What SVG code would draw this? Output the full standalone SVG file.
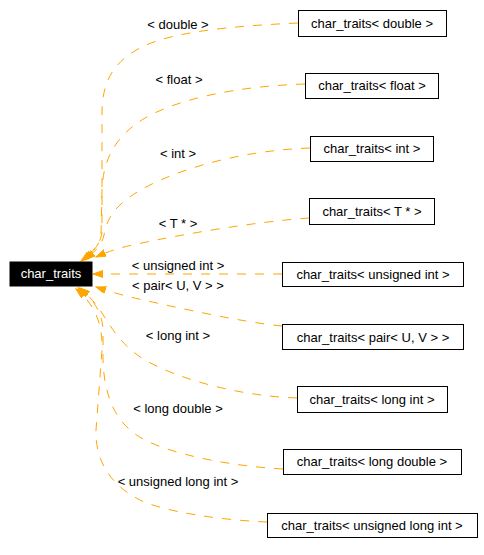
<svg xmlns="http://www.w3.org/2000/svg" width="484" height="555" viewBox="0 0 484 555">
<style>
.box{fill:#fff;stroke:#000;stroke-width:1}
.t{font-family:"Liberation Sans",Arial,sans-serif;font-size:13px;fill:#000;text-anchor:middle}
.e{fill:none;stroke:#FFA500;stroke-width:1;stroke-dasharray:9,9;marker-end:url(#ah)}
</style>
<defs>
<marker id="ah" markerUnits="userSpaceOnUse" markerWidth="11" markerHeight="8" refX="10" refY="3.5" orient="auto">
<path d="M0,0 L10,3.5 L0,7 z" fill="#FFA500" stroke="#FFA500"/>
</marker>
</defs>
<rect width="484" height="555" fill="#fff"/>
<g id="edges">
<path class="e" d="M298,23 C230,26 170,32 140,48 C110,64 103,85 102,110 L102,230 C102,243 92,253 81,261"/>
<path class="e" d="M305,84 C240,86 180,98 145,118 C115,136 103,160 102,190 L101,235 C100,245 92,253 83,260"/>
<path class="e" d="M310,148 C250,150 190,165 150,185 C120,200 107,215 104,235 C102,245 95,252 85,259"/>
<path class="e" d="M309,218 C250,222 160,238 120,248 C110,251 103,254 96,257"/>
<path class="e" d="M282,274 L93,274"/>
<path class="e" d="M282,326 C240,322 170,306 130,297 C118,294 105,290 96,287"/>
<path class="e" d="M297,398 C240,396 180,380 145,360 C120,345 110,325 100,310 C93,300 86,293 80,288"/>
<path class="e" d="M283,469 C230,466 175,455 145,440 C115,425 104,395 103,360 L103,330 C102,310 92,298 78,288"/>
<path class="e" d="M267,522 C220,520 165,512 140,500 C110,485 95,460 96,430 L102,350 C103,320 92,302 76,289"/>
<g class="t">
<text x="178" y="29">&lt; double &gt;</text>
<text x="179" y="84">&lt; float &gt;</text>
<text x="178" y="158">&lt; int &gt;</text>
<text x="178" y="228">&lt; T * &gt;</text>
<text x="178" y="270">&lt; unsigned int &gt;</text>
<text x="178" y="290">&lt; pair&lt; U, V &gt; &gt;</text>
<text x="178" y="340">&lt; long int &gt;</text>
<text x="178" y="413">&lt; long double &gt;</text>
<text x="178" y="486">&lt; unsigned long int &gt;</text>
</g>
</g>
<g id="char_traits">
<rect x="10" y="262" width="82" height="24" fill="#000" stroke="#000"/>
<text class="t" x="51" y="278" style="fill:#fff">char_traits</text>
</g>
<g id="n_double">
<rect class="box" x="298.5" y="10.5" width="148" height="26"/>
<text class="t" x="372" y="28">char_traits&lt; double &gt;</text>
</g>
<g id="n_float">
<rect class="box" x="305.5" y="73.5" width="133" height="25"/>
<text class="t" x="372" y="90">char_traits&lt; float &gt;</text>
</g>
<g id="n_int">
<rect class="box" x="310.5" y="136.5" width="123" height="25"/>
<text class="t" x="372" y="153">char_traits&lt; int &gt;</text>
</g>
<g id="n_tptr">
<rect class="box" x="309.5" y="198.5" width="125" height="26"/>
<text class="t" x="372" y="216">char_traits&lt; T * &gt;</text>
</g>
<g id="n_uint">
<rect class="box" x="282.5" y="262.5" width="181" height="24"/>
<text class="t" x="373" y="279">char_traits&lt; unsigned int &gt;</text>
</g>
<g id="n_pair">
<rect class="box" x="282.5" y="324.5" width="181" height="25"/>
<text class="t" x="373" y="342">char_traits&lt; pair&lt; U, V &gt; &gt;</text>
</g>
<g id="n_long">
<rect class="box" x="297.5" y="386.5" width="150" height="26"/>
<text class="t" x="372" y="404">char_traits&lt; long int &gt;</text>
</g>
<g id="n_ldouble">
<rect class="box" x="283.5" y="449.5" width="178" height="25"/>
<text class="t" x="372" y="466">char_traits&lt; long double &gt;</text>
</g>
<g id="n_ulong">
<rect class="box" x="267.5" y="513.5" width="210" height="24"/>
<text class="t" x="372" y="530">char_traits&lt; unsigned long int &gt;</text>
</g>
</svg>
